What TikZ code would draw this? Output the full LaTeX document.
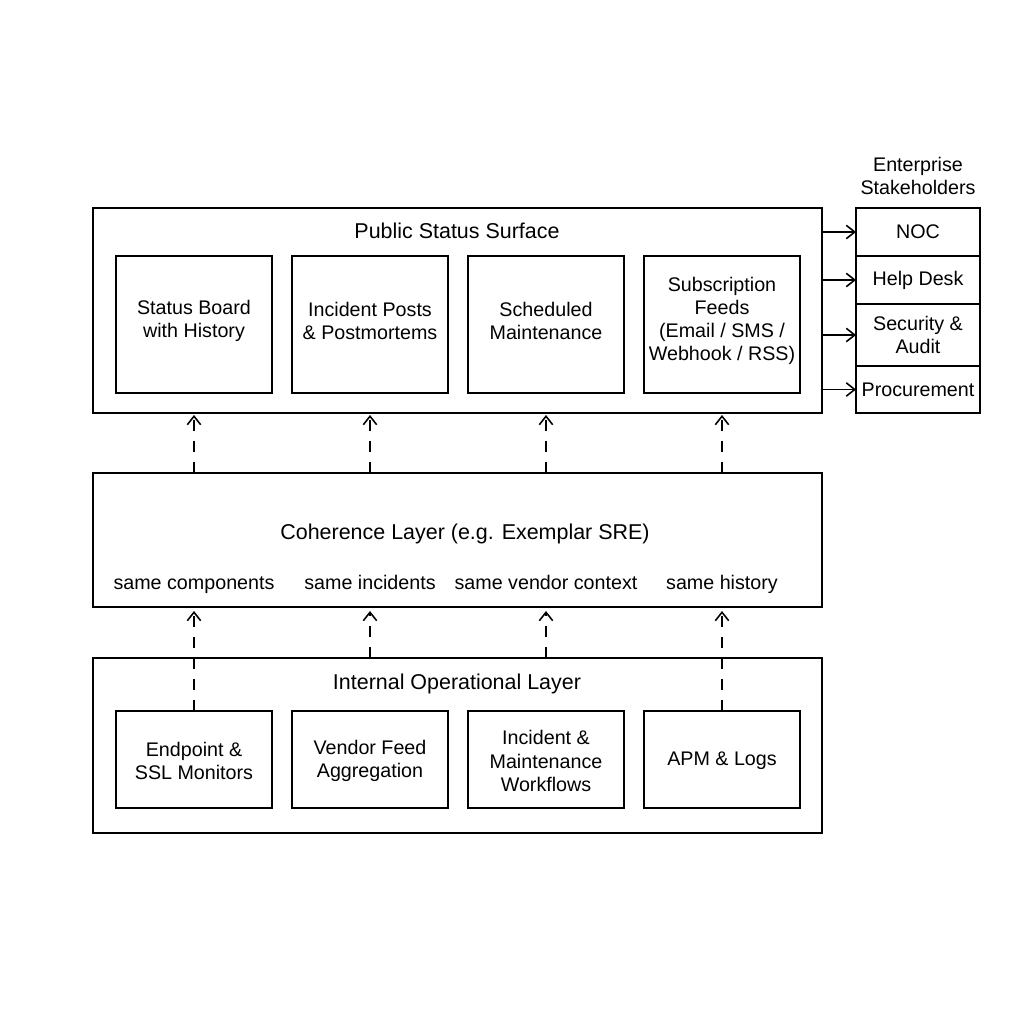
\documentclass[tikz,border=0pt]{standalone}
\usepackage{fontspec}
\usetikzlibrary{arrows.meta}
\setmainfont{Liberation Sans}
\begin{document}
\begin{tikzpicture}[x=0.01cm,y=-0.01cm,
 box/.style={draw,line width=0.5pt,inner sep=0pt},
 txt/.style={font=\fontsize{5.6pt}{6.6pt}\selectfont,align=center},
 ttl/.style={font=\fontsize{6.1pt}{7pt}\selectfont,align=center},
 dar/.style={-{Straight Barb[length=2.4pt,width=3.8pt,line width=0.45pt]},dashed,line width=0.45pt},
 sar/.style={-{Straight Barb[length=2.4pt,width=3.8pt,line width=0.45pt]},line width=0.45pt}]
\useasboundingbox (0,0) rectangle (1024,1024);
\fill[white] (0,0) rectangle (1024,1024);
% public
\draw[box] (93,208) rectangle (822,413);
\node[ttl] (pt) at (457,231) {Public Status Surface};
\foreach \n/\x/\t in {p1/116/{Status Board\\with History},p2/292/{Incident Posts\\\& Postmortems},p3/468/{Scheduled\\Maintenance},p4/644/{Subscription\\Feeds\\(Email / SMS /\\Webhook / RSS)}}{
 \draw[box] (\x,256) rectangle ++(156,137);
 \node[txt] (\n) at (\x+78,321) {\t};
 \coordinate (\n b) at (\x+78,415);
}
% coherence
\draw[box] (93,473) rectangle (822,607);
\node[ttl] (ct) at (465,534) {Coherence Layer (e.g. Exemplar SRE)};
\foreach \n/\x/\t in {c1/194/same components,c2/370/same incidents,c3/546/same vendor context,c4/722/same history}{
 \node[txt,text height=1.4ex,text depth=0.3ex] (\n) at (\x,579) {\t};
 \coordinate (\n t) at (\x,473);
 \coordinate (\n b) at (\x,611);
}
% internal
\draw[box] (93,658) rectangle (822,833);
\node[ttl] (it) at (457,684) {Internal Operational Layer};
\foreach \n/\x/\t in {i1/116/{Endpoint \&\\SSL Monitors},i2/292/{Vendor Feed\\Aggregation},i3/468/{Incident \&\\Maintenance\\Workflows},i4/644/{APM \& Logs}}{
 \draw[box] (\x,711) rectangle ++(156,97);
 \node[txt] (\n) at (\x+78,761) {\t};
 \coordinate (\n t) at (\x+78,711);
}
\coordinate (o2) at (370,658);
\coordinate (o3) at (546,658);
\draw[dar] (i1t) -- (c1b);
\draw[dar] (o2) -- (c2b);
\draw[dar] (o3) -- (c3b);
\draw[dar] (i4t) -- (c4b);
\draw[dar] (c1t) -- (p1b);
\draw[dar] (c2t) -- (p2b);
\draw[dar] (c3t) -- (p3b);
\draw[dar] (c4t) -- (p4b);
% stakeholders
\node[txt] (st) at (918,176) {Enterprise\\Stakeholders};
\foreach \n/\a/\b/\t in {s1/208/256/NOC,s2/256/304/Help Desk,s3/304/366/{Security \&\\Audit},s4/366/413/Procurement}{
 \draw[box] (856,\a) rectangle (980,\b);
 \node[txt] (\n) at (918,{(\a+\b)/2}) {\t};
 \coordinate (\n s) at (822,{(\a+\b)/2});
 \draw[sar] (\n s) -- ++(34,0);
}
\end{tikzpicture}
\end{document}
